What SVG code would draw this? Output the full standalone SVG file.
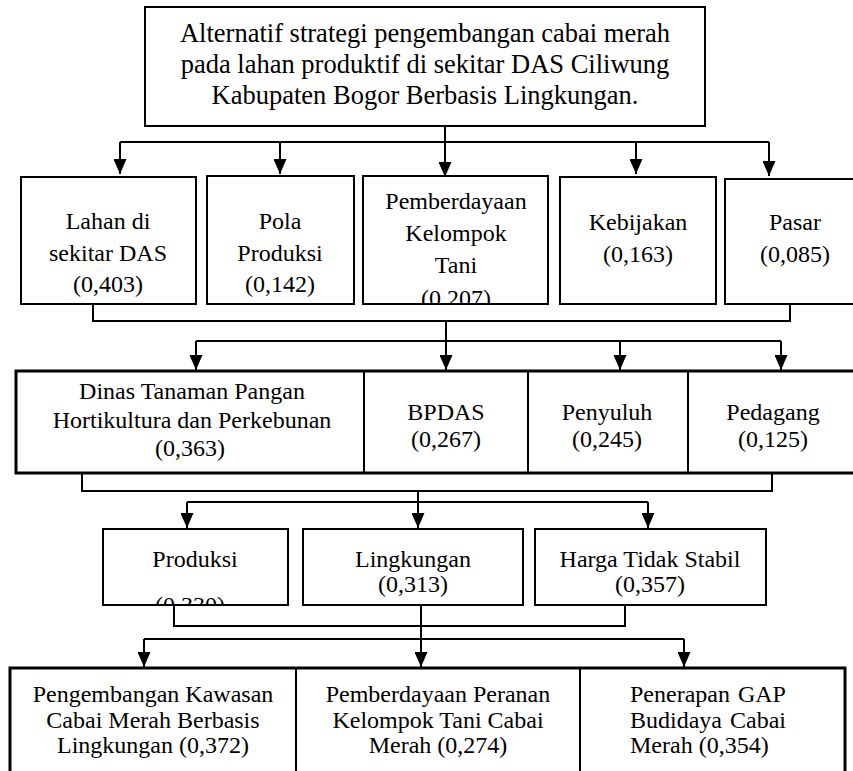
<svg xmlns="http://www.w3.org/2000/svg" width="853" height="771" viewBox="0 0 853 771">
<style>
text{font-family:"Liberation Serif","Times New Roman",serif;font-size:24px;fill:#000;text-anchor:middle}
.big{font-size:26.5px}
.box{fill:#fff;stroke:#000;stroke-width:2}
.thick{fill:#fff;stroke:#000;stroke-width:3}
.ln{fill:none;stroke:#000;stroke-width:2}
.ar{fill:none;stroke:#000;stroke-width:2;marker-end:url(#ah)}
</style>
<defs>
<marker id="ah" markerUnits="userSpaceOnUse" viewBox="0 0 15 13" refX="15" refY="6.5" markerWidth="15" markerHeight="13" orient="auto">
<path d="M0,0 L15,6.5 L0,13 z" fill="#000"/>
</marker>
<clipPath id="c3"><rect x="363" y="176" width="185" height="127"/></clipPath>
<clipPath id="c41"><rect x="103" y="529" width="185" height="75"/></clipPath>
</defs>
<g id="connectors">
<path class="ln" d="M445,126 V142 M120,142 H769"/>
<path class="ar" d="M120,142 V174"/>
<path class="ar" d="M280,142 V174"/>
<path class="ar" d="M445,142 V177"/>
<path class="ar" d="M636,142 V174"/>
<path class="ar" d="M769,142 V176"/>
<path class="ln" d="M93,304 V321 H790 V304 M446,321 V341 M196,341 H781"/>
<path class="ar" d="M196,341 V370"/>
<path class="ar" d="M446,341 V370"/>
<path class="ar" d="M620,341 V370"/>
<path class="ar" d="M781,341 V370"/>
<path class="ln" d="M82,473 V491 H772 V473 M418,491 V502 M187,502 H648"/>
<path class="ar" d="M187,502 V528"/>
<path class="ar" d="M418,502 V528"/>
<path class="ar" d="M648,502 V528"/>
<path class="ln" d="M174,605 V626 H625 V605 M421,605 V639 M144,639 H684"/>
<path class="ar" d="M144,639 V667"/>
<path class="ar" d="M421,639 V667"/>
<path class="ar" d="M684,639 V667"/>
</g>
<g id="goal">
<rect class="box" x="145" y="7" width="560" height="119"/>
<text class="big" x="425" y="42">Alternatif strategi pengembangan cabai merah</text>
<text class="big" x="425" y="73">pada lahan produktif di sekitar DAS Ciliwung</text>
<text class="big" x="425" y="104">Kabupaten Bogor Berbasis Lingkungan.</text>
</g>
<g id="c-lahan">
<rect class="box" x="21" y="177" width="175" height="127"/>
<text x="108" y="229">Lahan di</text>
<text x="108" y="261">sekitar DAS</text>
<text x="108" y="292">(0,403)</text>
</g>
<g id="c-pola">
<rect class="box" x="207" y="176" width="147" height="128"/>
<text x="280" y="229">Pola</text>
<text x="280" y="261">Produksi</text>
<text x="280" y="292">(0,142)</text>
</g>
<g id="c-pemberdayaan">
<rect class="box" x="363" y="176" width="185" height="128"/>
<g clip-path="url(#c3)">
<text x="456" y="209">Pemberdayaan</text>
<text x="456" y="241">Kelompok</text>
<text x="456" y="273">Tani</text>
<text x="456" y="306">(0,207)</text>
</g>
</g>
<g id="c-kebijakan">
<rect class="box" x="560" y="177" width="156" height="127"/>
<text x="638" y="230">Kebijakan</text>
<text x="638" y="262">(0,163)</text>
</g>
<g id="c-pasar">
<rect class="box" x="725" y="179" width="140" height="125"/>
<text x="795" y="230">Pasar</text>
<text x="795" y="262">(0,085)</text>
</g>
<g id="actors">
<rect class="thick" x="16" y="371" width="850" height="102"/>
<path class="ln" d="M364,371 V473 M528,371 V473 M688,371 V473"/>
</g>
<g id="a-dinas">
<text x="192" y="399">Dinas Tanaman Pangan</text>
<text x="192" y="428">Hortikultura dan Perkebunan</text>
<text x="190" y="456">(0,363)</text>
</g>
<g id="a-bpdas">
<text x="446" y="420">BPDAS</text>
<text x="446" y="447">(0,267)</text>
</g>
<g id="a-penyuluh">
<text x="607" y="420">Penyuluh</text>
<text x="607" y="447">(0,245)</text>
</g>
<g id="a-pedagang">
<text x="773" y="420">Pedagang</text>
<text x="773" y="447">(0,125)</text>
</g>
<g id="p-produksi">
<rect class="box" x="103" y="529" width="185" height="76"/>
<text x="195" y="567">Produksi</text>
<g clip-path="url(#c41)"><text x="190" y="613">(0,330)</text></g>
</g>
<g id="p-lingkungan">
<rect class="box" x="303" y="529" width="220" height="76"/>
<text x="413" y="567">Lingkungan</text>
<text x="413" y="592">(0,313)</text>
</g>
<g id="p-harga">
<rect class="box" x="535" y="529" width="231" height="76"/>
<text x="650" y="567">Harga Tidak Stabil</text>
<text x="650" y="592">(0,357)</text>
</g>
<g id="strategies">
<rect class="thick" x="10" y="668" width="835" height="120"/>
<path class="ln" d="M296,668 V771 M580,668 V771"/>
</g>
<g id="s-kawasan">
<text x="153" y="702">Pengembangan Kawasan</text>
<text x="153" y="728">Cabai Merah Berbasis</text>
<text x="153" y="753">Lingkungan (0,372)</text>
</g>
<g id="s-kelompok">
<text x="438" y="702">Pemberdayaan Peranan</text>
<text x="438" y="728">Kelompok Tani Cabai</text>
<text x="438" y="753">Merah (0,274)</text>
</g>
<g id="s-gap">
<text x="630" y="702" style="text-anchor:start;word-spacing:2px">Penerapan GAP</text>
<text x="630" y="728" style="text-anchor:start;word-spacing:2px">Budidaya Cabai</text>
<text x="630" y="753" style="text-anchor:start">Merah (0,354)</text>
</g>
</svg>
